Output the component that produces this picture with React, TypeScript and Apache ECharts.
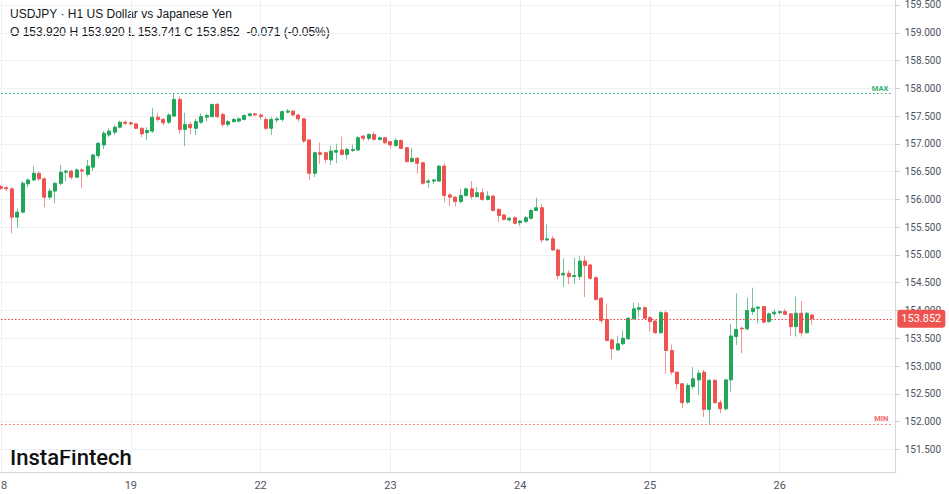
import React, { useEffect, useRef } from 'react';
import * as echarts from 'echarts';

// ---- data -----------------------------------------------------------
const days = ['18', '19', '22', '23', '24', '25', '26'];
const hoursPerDay = 24;
const totalSlots = 166; // hourly slots shown on the axis (incl. empty future area)

const opens = [
  156.23, 156.21, 156.19, 155.68, 155.77, 156.28, 156.35, 156.47, 156.37, 156.04,
  156.15, 156.29, 156.49, 156.51, 156.40, 156.53, 156.45, 156.58, 156.79, 156.98,
  157.16, 157.21, 157.30, 157.39, 157.38, 157.36, 157.28, 157.20, 157.23, 157.48,
  157.44, 157.39, 157.50, 157.80, 157.26, 157.35, 157.28, 157.39, 157.48, 157.49,
  157.71, 157.53, 157.35, 157.40, 157.41, 157.44, 157.51, 157.54, 157.52, 157.44,
  157.28, 157.43, 157.44, 157.57, 157.59, 157.52, 157.45, 157.07, 156.47, 156.84,
  156.84, 156.71, 156.85, 156.89, 156.81, 156.88, 156.89, 157.14, 157.10, 157.17,
  157.08, 157.11, 157.04, 156.97, 157.06, 156.93, 156.68, 156.74, 156.66, 156.31,
  156.33, 156.33, 156.60, 156.08, 156.04, 155.96, 156.07, 156.19, 156.05, 156.12,
  156.00, 156.06, 155.82, 155.72, 155.63, 155.67, 155.58, 155.60, 155.66, 155.80,
  155.85, 155.27, 155.29, 155.09, 154.64, 154.67, 154.61, 154.61, 154.89, 154.82,
  154.59, 154.22, 153.84, 153.47, 153.29, 153.40, 153.49, 153.85, 154.02, 154.05,
  153.87, 153.81, 153.60, 153.96, 153.28, 152.89, 152.68, 152.35, 152.63, 152.75,
  152.89, 152.22, 152.74, 152.34, 152.23, 152.75, 153.53, 153.68, 153.67, 153.98,
  154.04, 154.07, 153.80, 153.94, 153.96, 153.98, 153.94, 153.71, 153.95, 153.60,
  153.920,
];
const highs = [
  156.26, 156.23, 156.22, 155.84, 156.33, 156.38, 156.60, 156.50, 156.40, 156.20,
  156.31, 156.62, 156.53, 156.53, 156.56, 156.56, 156.71, 156.82, 157.03, 157.23,
  157.28, 157.34, 157.42, 157.42, 157.40, 157.37, 157.30, 157.30, 157.65, 157.56,
  157.47, 157.55, 157.91, 157.85, 157.56, 157.40, 157.45, 157.55, 157.55, 157.72,
  157.74, 157.56, 157.43, 157.47, 157.48, 157.53, 157.56, 157.56, 157.54, 157.48,
  157.48, 157.48, 157.60, 157.63, 157.60, 157.54, 157.47, 157.08, 156.86, 157.02,
  156.86, 156.97, 157.00, 157.13, 156.93, 156.99, 157.14, 157.16, 157.19, 157.21,
  157.13, 157.12, 157.05, 157.10, 157.08, 156.95, 156.92, 156.76, 156.68, 156.37,
  156.37, 156.62, 156.65, 156.12, 156.06, 156.19, 156.21, 156.33, 156.22, 156.20,
  156.15, 156.08, 155.84, 155.74, 155.68, 155.69, 155.63, 155.70, 155.83, 156.03,
  155.92, 155.55, 155.34, 155.11, 154.94, 154.72, 154.95, 154.98, 154.98, 154.84,
  154.62, 154.24, 154.12, 153.49, 153.54, 153.64, 153.88, 154.14, 154.13, 154.07,
  153.90, 153.82, 153.99, 154.00, 153.39, 152.90, 152.69, 152.69, 152.98, 152.93,
  152.93, 152.77, 152.77, 152.39, 152.77, 153.76, 154.31, 153.71, 154.23, 154.41,
  154.08, 154.08, 153.96, 154.02, 154.00, 154.03, 153.95, 154.25, 154.17, 153.97,
  153.920,
];
const lows = [
  156.17, 156.15, 155.39, 155.49, 155.75, 156.22, 156.33, 156.33, 155.86, 156.00,
  155.93, 156.25, 156.33, 156.36, 156.38, 156.20, 156.41, 156.51, 156.74, 156.91,
  157.12, 157.16, 157.28, 157.34, 157.33, 157.26, 157.12, 157.07, 157.20, 157.40,
  157.33, 157.36, 157.49, 157.18, 156.96, 157.17, 157.16, 157.36, 157.40, 157.48,
  157.46, 157.30, 157.30, 157.38, 157.38, 157.42, 157.49, 157.50, 157.44, 157.25,
  157.16, 157.38, 157.40, 157.55, 157.50, 157.40, 157.02, 156.35, 156.40, 156.64,
  156.66, 156.62, 156.65, 156.79, 156.72, 156.85, 156.87, 157.05, 157.06, 157.06,
  157.06, 157.00, 156.92, 156.95, 156.91, 156.67, 156.67, 156.46, 156.26, 156.21,
  156.28, 156.31, 155.95, 155.88, 155.87, 155.93, 156.05, 156.00, 156.03, 155.97,
  155.98, 155.78, 155.59, 155.62, 155.60, 155.55, 155.52, 155.58, 155.64, 155.79,
  155.22, 155.25, 155.07, 154.56, 154.43, 154.47, 154.48, 154.55, 154.24, 154.55,
  154.18, 153.77, 153.44, 153.12, 153.28, 153.37, 153.47, 153.84, 153.88, 153.85,
  153.62, 153.58, 153.58, 152.86, 152.84, 152.58, 152.24, 152.32, 152.58, 152.48,
  152.08, 151.96, 152.32, 152.15, 152.20, 152.54, 153.38, 153.23, 153.64, 153.92,
  153.77, 153.77, 153.78, 153.89, 153.93, 153.92, 153.54, 153.53, 153.53, 153.58,
  153.741,
];
const closes = [
  156.20, 156.19, 155.68, 155.77, 156.29, 156.35, 156.47, 156.37, 156.04, 156.15,
  156.29, 156.49, 156.51, 156.40, 156.53, 156.51, 156.60, 156.80, 157.01, 157.19,
  157.23, 157.30, 157.39, 157.37, 157.36, 157.28, 157.18, 157.24, 157.48, 157.44,
  157.38, 157.52, 157.80, 157.26, 157.35, 157.29, 157.40, 157.49, 157.51, 157.71,
  157.49, 157.35, 157.40, 157.44, 157.45, 157.51, 157.54, 157.52, 157.49, 157.28,
  157.44, 157.45, 157.58, 157.59, 157.52, 157.45, 157.05, 156.47, 156.84, 156.81,
  156.72, 156.87, 156.88, 156.81, 156.90, 156.90, 157.11, 157.10, 157.17, 157.08,
  157.11, 157.02, 156.98, 157.06, 156.92, 156.68, 156.74, 156.65, 156.29, 156.33,
  156.35, 156.60, 156.07, 156.04, 155.96, 156.07, 156.19, 156.05, 156.12, 156.00,
  156.06, 155.80, 155.71, 155.64, 155.66, 155.57, 155.61, 155.67, 155.80, 155.85,
  155.27, 155.29, 155.09, 154.63, 154.67, 154.61, 154.63, 154.89, 154.81, 154.58,
  154.20, 153.82, 153.46, 153.31, 153.40, 153.50, 153.86, 154.03, 154.05, 153.86,
  153.80, 153.60, 153.96, 153.28, 152.89, 152.68, 152.34, 152.65, 152.77, 152.87,
  152.22, 152.74, 152.34, 152.23, 152.75, 153.54, 153.66, 153.67, 154.00, 154.04,
  154.06, 153.79, 153.94, 153.97, 153.98, 153.93, 153.71, 153.95, 153.60, 153.95,
  153.852,
];

// value-axis tick settings (labels every 0.500)
const yTickMin = 151.0;
const yTickStep = 0.5;

const titleText = 'USDJPY · H1 US Dollar vs Japanese Yen';
const ohlcText = 'O 153.920 H 153.920 L 153.741 C 153.852  -0.071 (-0.05%)';
const brandText = 'InstaFintech';

// ---- styling ------------------------------------------------------------
const UP = '#22a65a';
const DOWN = '#ef5350';
const UP_WICK = '#72c698';
const DOWN_WICK = '#f49592';
const GRID_LINE = '#eef0f4';
const AXIS_LINE = '#d3d8e2';
const TEXT = '#131722';
const AXIS_TEXT = '#50535e';

// price scale: y pixels of the plot map to this price range
const plotTopPrice = 159.59;
const plotBottomPrice = 151.092;

export default function App() {
  const ref = useRef<HTMLDivElement>(null);

  useEffect(() => {
    if (!ref.current) return;
    const chart = echarts.init(ref.current, null, { renderer: 'svg' });

    const categories = Array.from({ length: totalSlots }, (_, i) => {
      const d = days[Math.floor(i / hoursPerDay)];
      const h = String(i % hoursPerDay).padStart(2, '0');
      return `${d} ${h}:00`;
    });
    const isDayStart = (index: number) => index % hoursPerDay === 0;

    const full = opens.map((o, i) => [o, closes[i], lows[i], highs[i]]);
    const bodies = opens.map((o, i) => [o, closes[i], Math.min(o, closes[i]), Math.max(o, closes[i])]);

    const maxHigh = Math.max(...highs);
    const minLow = Math.min(...lows);
    const lastClose = closes[closes.length - 1];

    const option: any = {
      animation: false,
      backgroundColor: '#ffffff',
      grid: [
        // candles
        { left: 1.06, right: 55.7, top: 0, bottom: 22, containLabel: false, outerBoundsMode: 'none' },
        // frame (axis lines)
        { left: 0, right: 53.3, top: 0, bottom: 22, containLabel: false, outerBoundsMode: 'none' },
        // price labels / horizontal grid lines
        { left: 0, right: 53.3, top: 0, bottom: 16.9, containLabel: false, outerBoundsMode: 'none' },
      ],
      xAxis: [
        {
          gridIndex: 0,
          type: 'category',
          data: categories,
          boundaryGap: false,
          axisLine: { show: false, onZero: false },
          axisTick: { show: false },
          axisLabel: {
            interval: (index: number) => isDayStart(index),
            formatter: (v: string) => v.split(' ')[0],
            color: AXIS_TEXT,
            fontFamily: 'Roboto',
            fontSize: 11,
            margin: 8,
            alignMinLabel: 'center',
            hideOverlap: false,
          },
          splitLine: {
            show: true,
            interval: (index: number) => isDayStart(index),
            lineStyle: { color: GRID_LINE, width: 1 },
          },
        },
        {
          gridIndex: 1,
          type: 'value',
          min: 0,
          max: 1,
          axisLine: { show: true, onZero: false, lineStyle: { color: AXIS_LINE, width: 1 } },
          axisTick: { show: false },
          axisLabel: { show: false },
          splitLine: { show: false },
        },
        { gridIndex: 2, type: 'value', min: 0, max: 1, show: false },
      ],
      yAxis: [
        {
          gridIndex: 0,
          type: 'value',
          min: plotBottomPrice,
          max: plotTopPrice,
          show: false,
          splitLine: { show: false },
        },
        {
          gridIndex: 1,
          type: 'value',
          position: 'right',
          min: 0,
          max: 1,
          axisLine: { show: true, onZero: false, lineStyle: { color: AXIS_LINE, width: 1 } },
          axisTick: { show: false },
          axisLabel: { show: false },
          splitLine: { show: false },
        },
        {
          gridIndex: 2,
          type: 'value',
          position: 'right',
          min: yTickMin,
          max: plotTopPrice,
          interval: yTickStep,
          axisLine: { show: false, onZero: false },
          axisTick: { show: true, length: 4, lineStyle: { color: '#c5c9d2' } },
          axisLabel: {
            showMinLabel: false,
            showMaxLabel: false,
            margin: 9,
            color: AXIS_TEXT,
            fontFamily: 'Roboto',
            fontSize: 10,
            formatter: (v: number) => v.toFixed(3),
          },
          splitLine: {
            show: true,
            showMinLine: false,
            showMaxLine: false,
            lineStyle: { color: GRID_LINE, width: 1 },
          },
        },
      ],
      series: [
        {
          name: 'wicks',
          type: 'candlestick',
          xAxisIndex: 0,
          yAxisIndex: 0,
          data: full,
          barWidth: 0.5,
          silent: true,
          itemStyle: {
            color: UP_WICK,
            color0: DOWN_WICK,
            borderColor: UP_WICK,
            borderColor0: DOWN_WICK,
            borderWidth: 1,
          },
        },
        {
          name: 'USDJPY',
          type: 'candlestick',
          xAxisIndex: 0,
          yAxisIndex: 0,
          data: bodies,
          barWidth: 3.5,
          silent: true,
          itemStyle: {
            color: UP,
            color0: DOWN,
            borderColor: UP,
            borderColor0: DOWN,
            borderWidth: 1,
          },
          markLine: {
            silent: true,
            symbol: ['none', 'none'],
            animation: false,
            lineStyle: { color: DOWN, width: 1, opacity: 1 },
            data: [
              {
                yAxis: maxHigh,
                lineStyle: { color: '#1fb36c', type: [1.5, 2.5], width: 1, opacity: 1 },
                label: {
                  show: true,
                  position: 'insideEndTop',
                  distance: [5, 1],
                  formatter: 'MAX',
                  color: '#2fb574',
                  fontFamily: 'Roboto',
                  fontWeight: 'bold',
                  fontSize: 7.5,
                },
              },
              {
                yAxis: minLow,
                lineStyle: { color: '#f05a58', type: [1.5, 2.5], width: 1, opacity: 1 },
                label: {
                  show: true,
                  position: 'insideEndTop',
                  distance: [5, 1],
                  formatter: 'MIN',
                  color: '#f06a68',
                  fontFamily: 'Roboto',
                  fontWeight: 'bold',
                  fontSize: 7.5,
                },
              },
              {
                yAxis: lastClose,
                lineStyle: { color: '#f23b3b', type: [1.5, 2], width: 1, opacity: 1 },
                label: {
                  show: true,
                  position: 'end',
                  distance: 4,
                  formatter: () => lastClose.toFixed(3),
                  color: '#ffffff',
                  backgroundColor: DOWN,
                  borderRadius: 3,
                  padding: [4, 4, 3, 4],
                  fontFamily: 'Roboto',
                  fontSize: 11,
                },
              },
            ],
          },
        },
      ],
      graphic: [
        {
          type: 'text',
          x: 10,
          y: 14,
          style: {
            text: titleText,
            fill: TEXT,
            font: '12px "Liberation Sans", Arial, sans-serif',
            verticalAlign: 'middle',
          },
        },
        {
          type: 'text',
          x: 10,
          y: 32,
          style: {
            text: ohlcText,
            fill: TEXT,
            font: '12px "Liberation Sans", Arial, sans-serif',
            verticalAlign: 'middle',
          },
        },
        {
          type: 'text',
          x: 10,
          y: 457,
          style: {
            text: brandText,
            fill: '#111111',
            font: '500 22px Roboto, sans-serif',
            verticalAlign: 'middle',
          },
        },
      ],
    };

    chart.setOption(option);
    return () => chart.dispose();
  }, []);

  return (
    <div
      ref={ref}
      style={{ position: 'absolute', left: 0, top: 0, width: 949, height: 494, background: '#fff' }}
    />
  );
}
